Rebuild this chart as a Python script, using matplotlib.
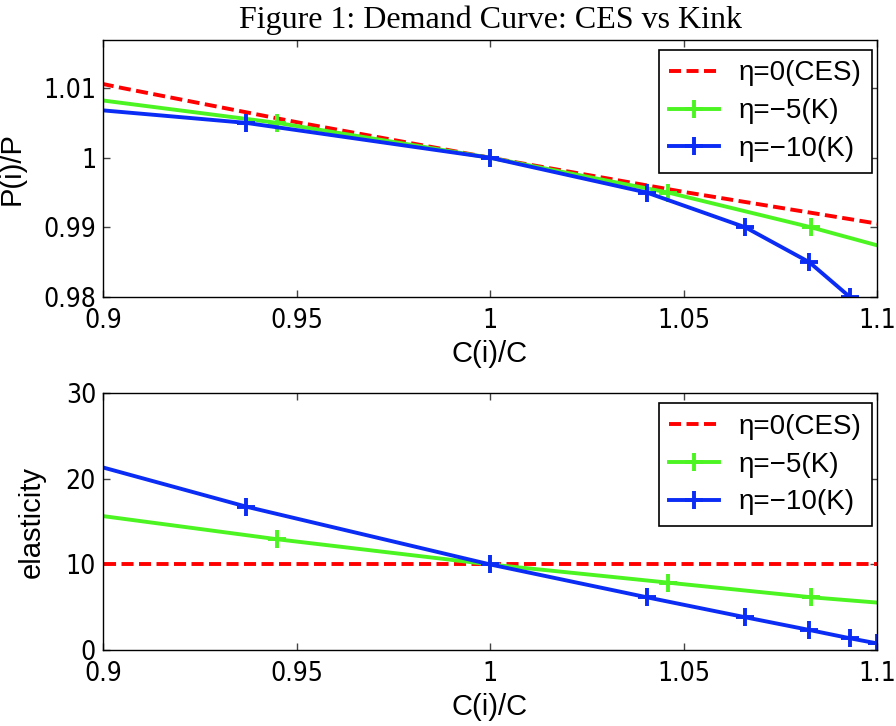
import matplotlib
matplotlib.use("Agg")
import matplotlib.pyplot as plt

# ---- data ----
# CES (eta = 0): demand C(i)/C at each relative price
ces_c = [0.862, 0.905, 0.951, 1.0, 1.051, 1.106, 1.163]
ces_p = [1.015, 1.010, 1.005, 1.0, 0.995, 0.990, 0.985]
ces_el = [10, 10, 10, 10, 10, 10, 10]

# Kimball kink, eta = -5
k5_c = [0.875, 0.945, 1.0, 1.046, 1.083, 1.116]
k5_p = [1.010, 1.005, 1.0, 0.995, 0.990, 0.985]
k5_el = [17.15, 12.94, 10.0, 7.87, 6.16, 4.96]

# Kimball kink, eta = -10
k10_c = [0.834, 0.937, 1.0, 1.0405, 1.066, 1.0825, 1.093, 1.0999]
k10_p = [1.010, 1.005, 1.0, 0.995, 0.990, 0.985, 0.980, 0.975]
k10_el = [29.5, 16.75, 10.0, 6.16, 3.82, 2.34, 1.37, 0.78]

labels = ["\u03b7=0(CES)", "\u03b7=\u22125(K)", "\u03b7=\u221210(K)"]
x_ticks = [0.9, 0.95, 1.0, 1.05, 1.1]
x_ticklabels = ["0.9", "0.95", "1", "1.05", "1.1"]
p_ticks = [0.98, 0.99, 1.0, 1.01]
p_ticklabels = ["0.98", "0.99", "1", "1.01"]
el_ticks = [0, 10, 20, 30]

plt.rcParams['font.family'] = ['Liberation Sans', 'DejaVu Sans']
plt.rcParams['font.size'] = 20

red = '#ff0000'
green = '#4cf522'
blue = '#0a2cf5'
lw = 2.8
dash = (0, (3.1, 1.4))

fig = plt.figure(figsize=(8.96, 7.26), dpi=100)
ax1 = fig.add_axes([0.115, 0.5909, 0.8638, 0.354])
ax2 = fig.add_axes([0.115, 0.1047, 0.8638, 0.3536])


def style(ax):
    ax.set_xlim(0.9, 1.1)
    ax.set_xticks(x_ticks)
    ax.set_xticklabels(x_ticklabels)
    ax.tick_params(direction='in', length=5, width=1, color='#444444',
                   top=True, right=True)
    ax.tick_params(axis='x', pad=8)
    ax.tick_params(axis='y', pad=5)
    # tick numbers are tall and narrow in the original
    for t in ax.get_xticklabels() + ax.get_yticklabels():
        t.set_family('DejaVu Sans')
        t.set_fontstretch('condensed')
        t.set_fontsize(19)
    for s in ax.spines.values():
        s.set_linewidth(1.0)
    ax.set_xlabel("C(i)/C", fontsize=21, labelpad=4)


def add_legend(ax):
    leg = ax.legend(loc='upper right', bbox_to_anchor=(0.9935, 0.962),
                    borderaxespad=0, fancybox=False, framealpha=1,
                    edgecolor='black', fontsize=20, handlelength=1.8,
                    handletextpad=0.7, labelspacing=0.43, borderpad=0.38)
    leg.get_frame().set_linewidth(1.2)


# top: demand curve
ax1.plot(ces_c, ces_p, color=red, lw=lw, linestyle=dash, label=labels[0])
ax1.plot(k5_c, k5_p, color=green, lw=lw, marker='+', ms=13, mew=2.8, label=labels[1])
ax1.plot(k10_c, k10_p, color=blue, lw=lw, marker='+', ms=13, mew=2.8, label=labels[2])
ax1.set_ylim(0.98, 1.0169)
ax1.set_yticks(p_ticks)
ax1.set_yticklabels(p_ticklabels)
style(ax1)
ax1.set_ylabel("P(i)/P", fontsize=21)
ax1.yaxis.set_label_coords(-0.1, 0.5)
add_legend(ax1)
ax1.set_title("Figure 1: Demand Curve: CES vs Kink", family='Liberation Serif',
              fontsize=23, pad=9)

# bottom: elasticity
ax2.plot(ces_c, ces_el, color=red, lw=lw, linestyle=dash, label=labels[0])
ax2.plot(k5_c, k5_el, color=green, lw=lw, marker='+', ms=13, mew=2.8, label=labels[1])
ax2.plot(k10_c, k10_el, color=blue, lw=lw, marker='+', ms=13, mew=2.8, label=labels[2])
ax2.set_ylim(0, 30)
ax2.set_yticks(el_ticks)
ax2.set_yticklabels([str(v) for v in el_ticks])
style(ax2)
ax2.set_ylabel("elasticity", fontsize=21)
ax2.yaxis.set_label_coords(-0.074, 0.5)
add_legend(ax2)

fig.savefig("out.png", dpi=100)
